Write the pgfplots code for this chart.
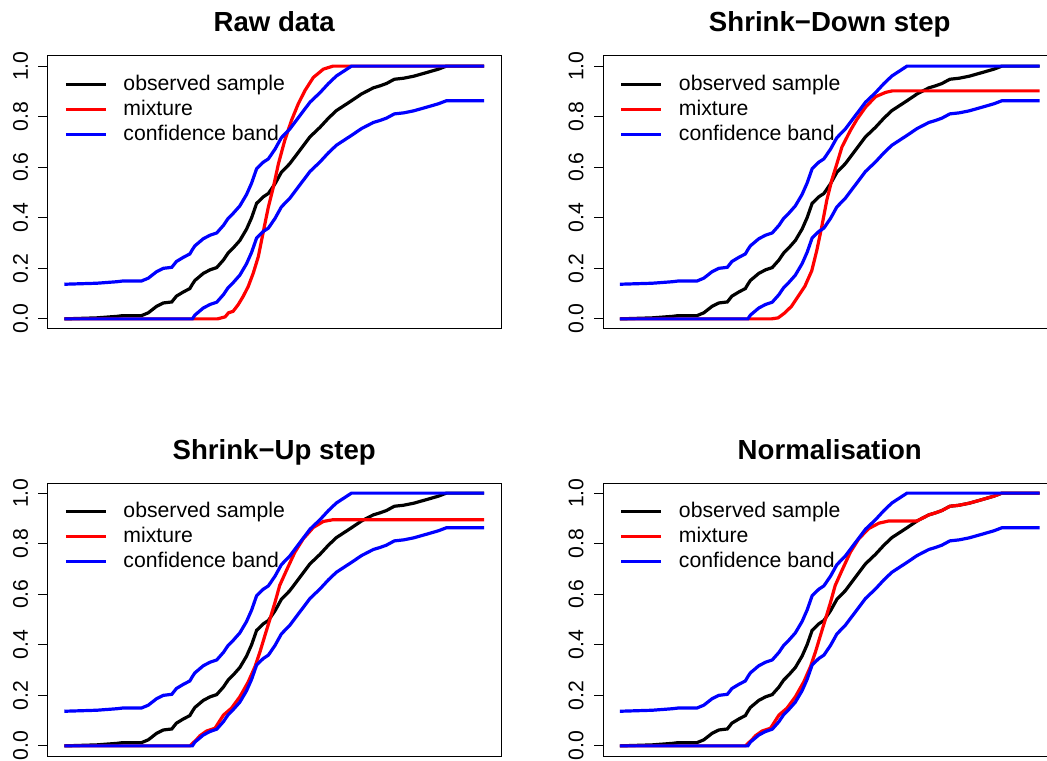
\documentclass[border=0pt]{standalone}
\usepackage{fontspec}
\setmainfont{Liberation Sans}
\usepackage{pgfplots}
\usepackage{pgfplotstable}
\pgfplotsset{compat=1.18}

% observed ECDF and its confidence band (same in every panel)
\pgfplotstableread{
x    obs   lo    hi
0    0     0     0.137
7.7  0.004 0     0.141
12.5 0.010 0     0.147
14   0.013 0     0.150
18.4 0.013 0     0.150
20   0.024 0     0.161
22   0.050 0     0.187
23.6 0.063 0     0.200
25.6 0.067 0     0.204
26.7 0.090 0     0.227
28.3 0.106 0     0.243
29.9 0.120 0     0.257
30.5 0.137 0     0.274
31.1 0.152 0.015 0.289
33.1 0.180 0.043 0.317
34.7 0.194 0.057 0.331
36.3 0.203 0.066 0.340
37.9 0.233 0.096 0.370
39   0.260 0.123 0.397
40.2 0.280 0.143 0.417
41.8 0.310 0.173 0.447
43.4 0.355 0.218 0.492
44.6 0.400 0.263 0.537
45.8 0.457 0.320 0.594
47.4 0.483 0.346 0.620
48.6 0.496 0.359 0.633
50.2 0.535 0.398 0.672
51.7 0.580 0.443 0.717
53.7 0.614 0.477 0.751
56.1 0.667 0.530 0.804
58.5 0.720 0.583 0.857
60.9 0.758 0.621 0.895
62.9 0.794 0.657 0.931
64.8 0.824 0.687 0.961
67.2 0.850 0.713 0.987
68.4 0.863 0.726 1.000
70.8 0.890 0.753 1.000
73.6 0.914 0.777 1.000
75.2 0.922 0.785 1.000
76.7 0.931 0.794 1.000
78.6 0.948 0.811 1.000
80.8 0.952 0.815 1.000
83.2 0.960 0.823 1.000
86.4 0.975 0.838 1.000
89.1 0.988 0.851 1.000
91   1.000 0.863 1.000
100  1.000 0.863 1.000
}\base

% mixture, raw data
\pgfplotstableread{
x    y
0    0
36.5 0
38.3 0.008
39.1 0.024
40.2 0.030
41.4 0.056
42.6 0.089
43.8 0.128
45   0.181
46.2 0.246
47   0.312
47.8 0.378
48.6 0.443
49.8 0.522
51   0.614
52.5 0.706
54.1 0.785
55.7 0.850
57.3 0.903
59.3 0.955
61.7 0.988
64   1.000
100  1.000
}\mixA

% mixture, shrink-down step
\pgfplotstableread{
x    y
0    0
36.1 0
37.7 0.004
39.3 0.024
40.9 0.050
42.5 0.090
44.1 0.130
45.7 0.190
46.9 0.270
48.1 0.365
49.3 0.470
50.5 0.550
51.7 0.614
52.9 0.680
54.9 0.745
56.5 0.790
58.5 0.837
60.9 0.879
63.3 0.896
64.9 0.902
100  0.902
}\mixB

% mixture, shrink-up step
\pgfplotstableread{
x    y
0    0
29.9 0
31.5 0.025
32.3 0.040
33.9 0.059
35.9 0.070
37.9 0.122
39.8 0.149
41.8 0.194
43.8 0.253
45.4 0.313
46.6 0.372
47.8 0.438
49   0.503
50.2 0.569
51.3 0.635
52.9 0.694
54.9 0.766
56.9 0.819
59.3 0.864
61.7 0.888
64.1 0.895
100  0.895
}\mixC

% mixture, normalisation
\pgfplotstableread{
x    y
0    0
29.9 0
31.5 0.025
32.3 0.040
33.9 0.059
35.9 0.070
37.9 0.122
39.8 0.149
41.8 0.194
43.8 0.253
45.4 0.313
46.6 0.372
47.8 0.438
49   0.503
50.2 0.569
51.3 0.635
52.9 0.694
54.9 0.766
56.9 0.819
59.3 0.860
61.7 0.881
64.1 0.890
70.8 0.890
73.6 0.914
75.2 0.922
76.7 0.931
78.6 0.948
80.8 0.952
83.2 0.960
86.4 0.975
89.1 0.988
91   1.000
100  1.000
}\mixD

\pgfplotsset{
  every axis title/.style={at={(0.5,1)}, anchor=base, yshift=12pt,
    font=\bfseries\fontsize{13.8}{16}\selectfont},
  panel/.style={
    scale only axis, width=226.75pt, height=136.5pt,
    xmin=-4, xmax=104, ymin=-0.04, ymax=1.04,
    axis line style={line width=0.5pt},
    xtick=\empty, ytick={0,0.2,0.4,0.6,0.8,1},
    ytick pos=left, tick align=outside, major tick length=4.5pt,
    tick style={black, line width=0.5pt},
    yticklabel style={rotate=90, anchor=south, inner sep=0pt, inner ysep=5pt,
      font=\fontsize{10.6}{12}\selectfont,
      /pgf/number format/.cd, fixed, fixed zerofill, precision=1, assume math mode=true},
    legend cell align=left,
    legend style={at={(0.037,0.941)}, anchor=north west, draw=none, fill=none,
      inner sep=0pt, outer sep=0pt, row sep=0pt,
      font=\fontsize{10.6}{12}\selectfont,
      nodes={inner sep=0pt, text height=8.95pt, text depth=3.55pt},
      /tikz/every odd column/.append style={column sep=8pt}},
    legend image code/.code={\draw[##1] (0pt,0pt) -- (20pt,0pt);},
    every axis plot/.append style={line width=1.6pt},
  },
}

\begin{document}
\begin{tikzpicture}
\useasboundingbox (0,0) rectangle (523.5pt,380pt);
\clip (0,0) rectangle (523.5pt,380pt);

\begin{axis}[panel, at={(23.75pt,215.5pt)}, anchor=south west, title={Raw data}]
  \addplot[black] table[x=x, y=obs] {\base};
  \addplot[red] table[x=x, y=y] {\mixA};
  \addplot[blue] table[x=x, y=hi] {\base};
  \addplot[blue, forget plot] table[x=x, y=lo] {\base};
  \legend{observed sample, mixture, confidence band}
\end{axis}

\begin{axis}[panel, at={(301.5pt,215.5pt)}, anchor=south west, title={Shrink−Down step}]
  \addplot[black] table[x=x, y=obs] {\base};
  \addplot[red] table[x=x, y=y] {\mixB};
  \addplot[blue] table[x=x, y=hi] {\base};
  \addplot[blue, forget plot] table[x=x, y=lo] {\base};
  \legend{observed sample, mixture, confidence band}
\end{axis}

\begin{axis}[panel, at={(23.75pt,2pt)}, anchor=south west, title={Shrink−Up step}]
  \addplot[black] table[x=x, y=obs] {\base};
  \addplot[red] table[x=x, y=y] {\mixC};
  \addplot[blue] table[x=x, y=hi] {\base};
  \addplot[blue, forget plot] table[x=x, y=lo] {\base};
  \legend{observed sample, mixture, confidence band}
\end{axis}

\begin{axis}[panel, at={(301.5pt,2pt)}, anchor=south west, title={Normalisation}]
  \addplot[black] table[x=x, y=obs] {\base};
  \addplot[red] table[x=x, y=y] {\mixD};
  \addplot[blue] table[x=x, y=hi] {\base};
  \addplot[blue, forget plot] table[x=x, y=lo] {\base};
  \legend{observed sample, mixture, confidence band}
\end{axis}
\end{tikzpicture}
\end{document}
